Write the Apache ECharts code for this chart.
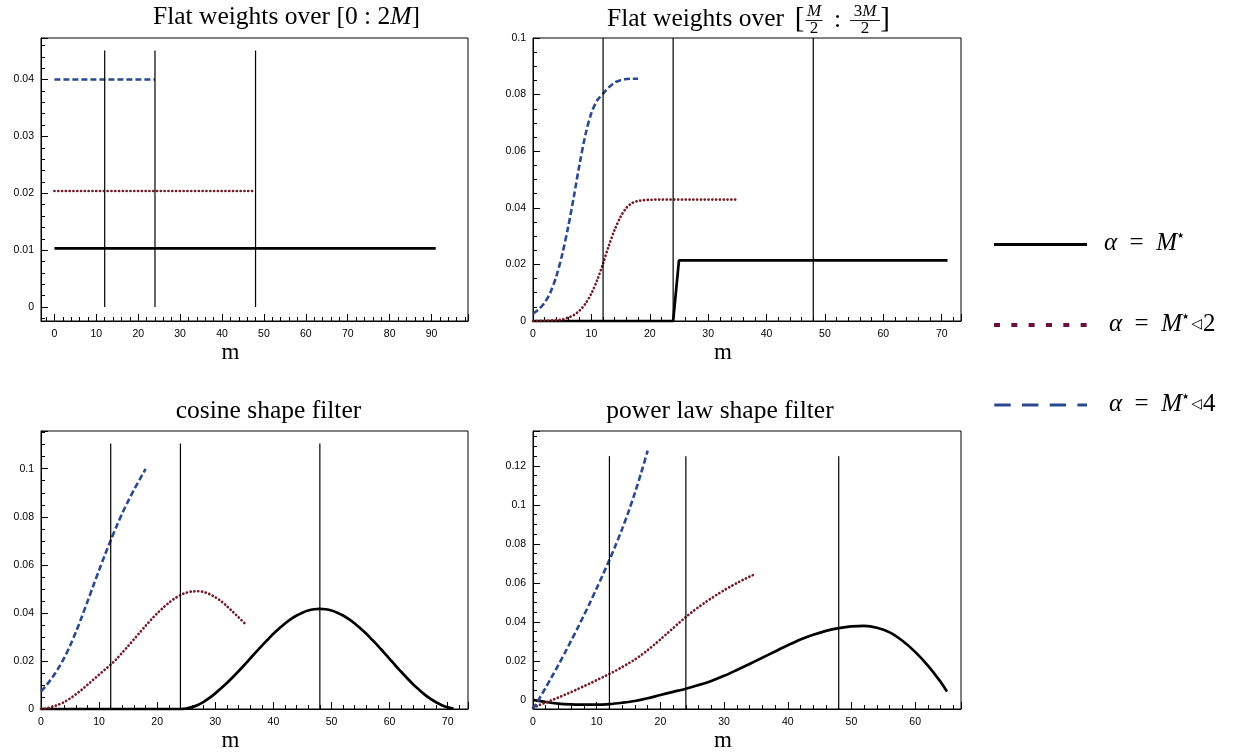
<!DOCTYPE html>
<html><head><meta charset="utf-8">
<script src="https://cdn.jsdelivr.net/npm/echarts@6/dist/echarts.min.js"></script>
<style>html,body{margin:0;padding:0;background:#fff}#c{width:1235px;height:753px}</style>
</head><body><div id="c"></div>
<script>
// ---------- data ----------
const vlineM = [12, 24, 48];
const vlineBottom = [0, 0, 0, -0.0047];
const vlineTop = [0.0451, 0.1, 0.1105, 0.125];

// panel 1 : flat weights over [0:2M]
const p1Black = [[0, 0.0103], [91, 0.0103]];
const p1Red = [[0, 0.0204], [48, 0.0204]];
const p1Blue = [[0, 0.0400], [24, 0.0400]];

// panel 2 : flat weights over [M/2 : 3M/2]   (values at m = 0,1,2,...)
const p2Black = [[0, 0], [24, 0], [25, 0.0214], [71, 0.0214]];
const p2Red = [0, 0, 0.0001, 0.0002, 0.0003, 0.0005, 0.0012, 0.0021, 0.0037, 0.0062, 0.0097, 0.0145,
  0.0203, 0.0267, 0.0323, 0.0368, 0.0400, 0.0417, 0.0424, 0.0427, 0.0428, 0.0429, 0.0429, 0.0429,
  0.0429, 0.0429, 0.0429, 0.0429, 0.0429, 0.0429, 0.0429, 0.0429, 0.0429, 0.0429, 0.0429, 0.0429];
const p2Blue = [0.0026, 0.0042, 0.0065, 0.0102, 0.0158, 0.0235, 0.0330, 0.0440, 0.0557, 0.0660,
  0.0735, 0.0780, 0.0803, 0.0826, 0.0843, 0.0851, 0.0855, 0.0856, 0.0856];

// panel 3 : cosine shape filter   (values at m = 0,1,2,...)
const p3Blue = [0.0073, 0.0101, 0.0133, 0.0170, 0.0213, 0.0263, 0.0320, 0.0382, 0.0447, 0.0513,
  0.0578, 0.0641, 0.0702, 0.0760, 0.0815, 0.0865, 0.0912, 0.0956, 0.0999];
const p3Red = [0, 0.0003, 0.0010, 0.0018, 0.0029, 0.0044, 0.0061, 0.0080, 0.0101, 0.0122, 0.0143,
  0.0164, 0.0185, 0.0208, 0.0235, 0.0262, 0.0290, 0.0318, 0.0346, 0.0373, 0.0398, 0.0421, 0.0442,
  0.0460, 0.0474, 0.0484, 0.0489, 0.0490, 0.0487, 0.0478, 0.0465, 0.0449, 0.0428, 0.0405, 0.0382, 0.0358];
const p3Black = [0, 0, 0, 0, 0, 0, 0, 0, 0, 0, 0, 0, 0, 0, 0, 0, 0, 0, 0, 0, 0, 0, 0, 0, 0,
  0.0002, 0.0008, 0.0017, 0.0030, 0.0046, 0.0065, 0.0086, 0.0108, 0.0132, 0.0157, 0.0183, 0.0210,
  0.0237, 0.0263, 0.0288, 0.0313, 0.0335, 0.0356, 0.0374, 0.0389, 0.0401, 0.0410, 0.0415, 0.0417,
  0.0415, 0.0410, 0.0401, 0.0389, 0.0374, 0.0356, 0.0335, 0.0313, 0.0288, 0.0263, 0.0236, 0.0209,
  0.0181, 0.0155, 0.0129, 0.0104, 0.0082, 0.0061, 0.0043, 0.0028, 0.0016, 0.0007, 0.0002];

// panel 4 : power law shape filter
const p4Blue = [-0.0047, 0.0007, 0.0063, 0.0121, 0.0180, 0.0241, 0.0304, 0.0368, 0.0434, 0.0502,
  0.0572, 0.0644, 0.0718, 0.0795, 0.0877, 0.0965, 0.1062, 0.1166, 0.1278];
const p4Red = [-0.0040, -0.0027, -0.0014, -0.0001, 0.0012, 0.0026, 0.0040, 0.0055, 0.0070, 0.0085,
  0.0101, 0.0117, 0.0133, 0.0150, 0.0168, 0.0187, 0.0207, 0.0230, 0.0255, 0.0282, 0.0310, 0.0339,
  0.0368, 0.0397, 0.0425, 0.0451, 0.0476, 0.0499, 0.0521, 0.0542, 0.0562, 0.0581, 0.0599, 0.0616,
  0.0632, 0.0647];
const p4BlackM = [0, 2, 4, 6, 8, 10, 12, 14, 16, 18, 20, 22, 24, 26, 28, 30, 32, 34, 36, 38, 40,
  42, 44, 46, 48, 50, 52, 54, 56, 58, 60, 62, 64, 65];
const p4BlackV = [0, -0.0011, -0.0019, -0.0023, -0.0025, -0.0025, -0.0022, -0.0015, -0.0006, 0.0008,
  0.0025, 0.0041, 0.0057, 0.0076, 0.0097, 0.0123, 0.0153, 0.0184, 0.0216, 0.0248, 0.0280, 0.0310,
  0.0334, 0.0354, 0.0368, 0.0377, 0.0379, 0.0370, 0.0346, 0.0303, 0.0246, 0.0176, 0.0092, 0.0042];

// axis ranges and tick steps
const xRange = [[-3.2, 98.7], [0, 73.3], [0, 73.5], [0, 67.2]];
const yRange = [[-0.00246, 0.0473], [0, 0.1], [0, 0.1157], [-0.0047, 0.1379]];
const xStep = [10, 10, 10, 10];
const yStep = [0.01, 0.02, 0.02, 0.02];
const yMinorSplit = [5, 4, 4, 4];

// ---------- layout ----------
const grids = [
  {left: 41, top: 38, width: 427, height: 283},
  {left: 533, top: 38, width: 428, height: 283},
  {left: 41, top: 431, width: 427, height: 282},
  {left: 533, top: 431, width: 428, height: 282}
];
const BLACK = '#000', RED = '#731b28', BLUE = '#2b4a8e';
const SERIF = '"Liberation Serif", "DejaVu Serif", serif';
const SANS = '"Liberation Sans", Arial, sans-serif';
const SYM = '"DejaVu Sans", sans-serif';

function byIndex(vals) { return vals.map((v, i) => [i, v]); }
function zip(ms, vs) { return ms.map((m, i) => [m, vs[i]]); }
function fmt(step) {
  return function (v) {
    const k = v / step;
    if (Math.abs(k - Math.round(k)) > 1e-6) return '';
    return String(parseFloat(v.toFixed(4)));
  };
}

const xAxes = [], yAxes = [];
for (let i = 0; i < 4; i++) {
  xAxes.push({
    gridIndex: i, type: 'value', min: xRange[i][0], max: xRange[i][1],
    minInterval: xStep[i], maxInterval: xStep[i],
    axisLine: {show: true, onZero: false, lineStyle: {color: BLACK, width: 1}},
    axisTick: {show: true, inside: true, length: 7, lineStyle: {color: BLACK, width: 1}},
    minorTick: {show: true, splitNumber: 5, length: 4, lineStyle: {color: BLACK, width: 1}},
    splitLine: {show: false}, minorSplitLine: {show: false},
    axisLabel: {show: true, margin: 8, color: BLACK, fontSize: 10.5, fontFamily: SANS,
      formatter: fmt(xStep[i]), showMinLabel: true, showMaxLabel: true, hideOverlap: false},
    name: 'm', nameLocation: 'middle', nameGap: 20,
    nameTextStyle: {fontFamily: SERIF, fontSize: 23, color: BLACK, padding: [0, 48, 0, 0]}
  });
  yAxes.push({
    gridIndex: i, type: 'value', min: yRange[i][0], max: yRange[i][1],
    minInterval: yStep[i], maxInterval: yStep[i],
    axisLine: {show: true, onZero: false, lineStyle: {color: BLACK, width: 1}},
    axisTick: {show: true, inside: true, length: 7, lineStyle: {color: BLACK, width: 1}},
    minorTick: {show: true, splitNumber: yMinorSplit[i], length: 4, lineStyle: {color: BLACK, width: 1}},
    splitLine: {show: false}, minorSplitLine: {show: false},
    axisLabel: {show: true, margin: 7, color: BLACK, fontSize: 10.5, fontFamily: SANS,
      formatter: fmt(yStep[i]), showMinLabel: true, showMaxLabel: true, hideOverlap: false}
  });
}

function line(i, data, kind, smooth) {
  let ls;
  if (kind === 'black') ls = {color: BLACK, width: 2.7, type: 'solid'};
  else if (kind === 'red') ls = {color: RED, width: 2.7, type: [0.1, 3.7], cap: 'round'};
  else if (kind === 'blue') ls = {color: BLUE, width: 2.6, type: [6, 3]};
  else ls = {color: BLACK, width: 1.2, type: 'solid'};
  return {type: 'line', xAxisIndex: i, yAxisIndex: i, data: data, symbol: 'none', showSymbol: false,
    smooth: smooth ? 0.3 : false, lineStyle: ls, clip: false, silent: true, animation: false,
    z: kind === 'v' ? 5 : 3};
}

const series = [
  line(0, p1Black, 'black'), line(0, p1Red, 'red'), line(0, p1Blue, 'blue'),
  line(1, p2Black, 'black'), line(1, byIndex(p2Red), 'red', true), line(1, byIndex(p2Blue), 'blue', true),
  line(2, byIndex(p3Black), 'black', true), line(2, byIndex(p3Red), 'red', true), line(2, byIndex(p3Blue), 'blue', true),
  line(3, zip(p4BlackM, p4BlackV), 'black', true), line(3, byIndex(p4Red), 'red', true), line(3, byIndex(p4Blue), 'blue', true)
];
for (let i = 0; i < 4; i++) {
  vlineM.forEach(m => series.push(line(i, [[m, vlineBottom[i]], [m, vlineTop[i]]], 'v')));
}

// ---------- titles & legend (text) ----------
const richBase = {
  n: {fontFamily: SERIF, fontSize: 25.5, color: BLACK},
  i: {fontFamily: SERIF, fontSize: 25.5, fontStyle: 'italic', color: BLACK},
  fn: {fontFamily: SERIF, fontSize: 17, color: BLACK},
  fi: {fontFamily: SERIF, fontSize: 17, fontStyle: 'italic', color: BLACK}
};
function rtext(x, y, text, align) {
  return {type: 'text', x: x, y: y, silent: true,
    style: {text: text, rich: richBase, align: align || 'center', verticalAlign: 'middle', fill: BLACK}};
}
const legRich = {
  a: {fontFamily: SERIF, fontSize: 25, fontStyle: 'italic', color: BLACK},
  n: {fontFamily: SERIF, fontSize: 25, color: BLACK},
  s: {fontFamily: SYM, fontSize: 8, color: BLACK, verticalAlign: 'top', padding: [1, 0, 0, 0]},
  t: {fontFamily: SYM, fontSize: 14, color: BLACK, padding: [0, 1, 0, 2]}
};
function legText(x, y, text) {
  return {type: 'text', x: x, y: y, silent: true,
    style: {text: text, rich: legRich, align: 'left', verticalAlign: 'middle'}};
}
function seg(x1, y1, x2, y2, stroke, w, dash, cap) {
  return {type: 'line', silent: true, shape: {x1: x1, y1: y1, x2: x2, y2: y2},
    style: {stroke: stroke, lineWidth: w, lineDash: dash || null, lineCap: cap || 'butt'}};
}
function txt(x, y, text, size, italic, align) {
  return {type: 'text', x: x, y: y, silent: true,
    style: {text: text, fontFamily: SERIF, fontSize: size, fontStyle: italic ? 'italic' : 'normal',
      fill: BLACK, align: align || 'center', verticalAlign: 'middle'}};
}

const graphics = [
  rtext(286.5, 17.5, '{n|Flat weights over [0 : 2}{i|M}{n|]}'),
  txt(607, 19.5, 'Flat weights over', 25.5, false, 'left'),
  txt(799.5, 19.5, '[', 29),
  txt(814, 12, 'M', 17, true),
  seg(805.5, 20.5, 822.5, 20.5, BLACK, 0.9),
  txt(814, 28.5, '2', 17),
  txt(837.5, 20.5, ':', 25.5),
  rtext(865, 12, '{fn|3}{fi|M}'),
  seg(850, 20.5, 880, 20.5, BLACK, 0.9),
  txt(865, 28.5, '2', 17),
  txt(885, 19.5, ']', 29),
  rtext(268.5, 411.5, '{n|cosine shape filter}'),
  rtext(720, 411.5, '{n|power law shape filter}'),
  seg(994, 244.5, 1087, 244.5, BLACK, 3),
  seg(994, 325, 1087, 325, '#6b1040', 4, [6, 11.33]),
  seg(994.3, 405, 1087, 405, BLUE, 3, [16.4, 11.3]),
  legText(1104, 243, '{a|α}{n|\u2002=\u2002}{a|M}{s|★}'),
  legText(1109, 324, '{a|α}{n|\u2002=\u2002}{a|M}{s|★}{t|◁}{n|2}'),
  legText(1109, 404, '{a|α}{n|\u2002=\u2002}{a|M}{s|★}{t|◁}{n|4}')
];

const chart = echarts.init(document.getElementById('c'), null, {renderer: 'canvas'});
chart.setOption({
  animation: false,
  backgroundColor: '#fff',
  grid: grids.map(g => Object.assign({show: true, borderColor: BLACK, borderWidth: 1,
    backgroundColor: 'transparent', containLabel: false}, g)),
  xAxis: xAxes,
  yAxis: yAxes,
  series: series,
  graphic: graphics
});
</script></body></html>
